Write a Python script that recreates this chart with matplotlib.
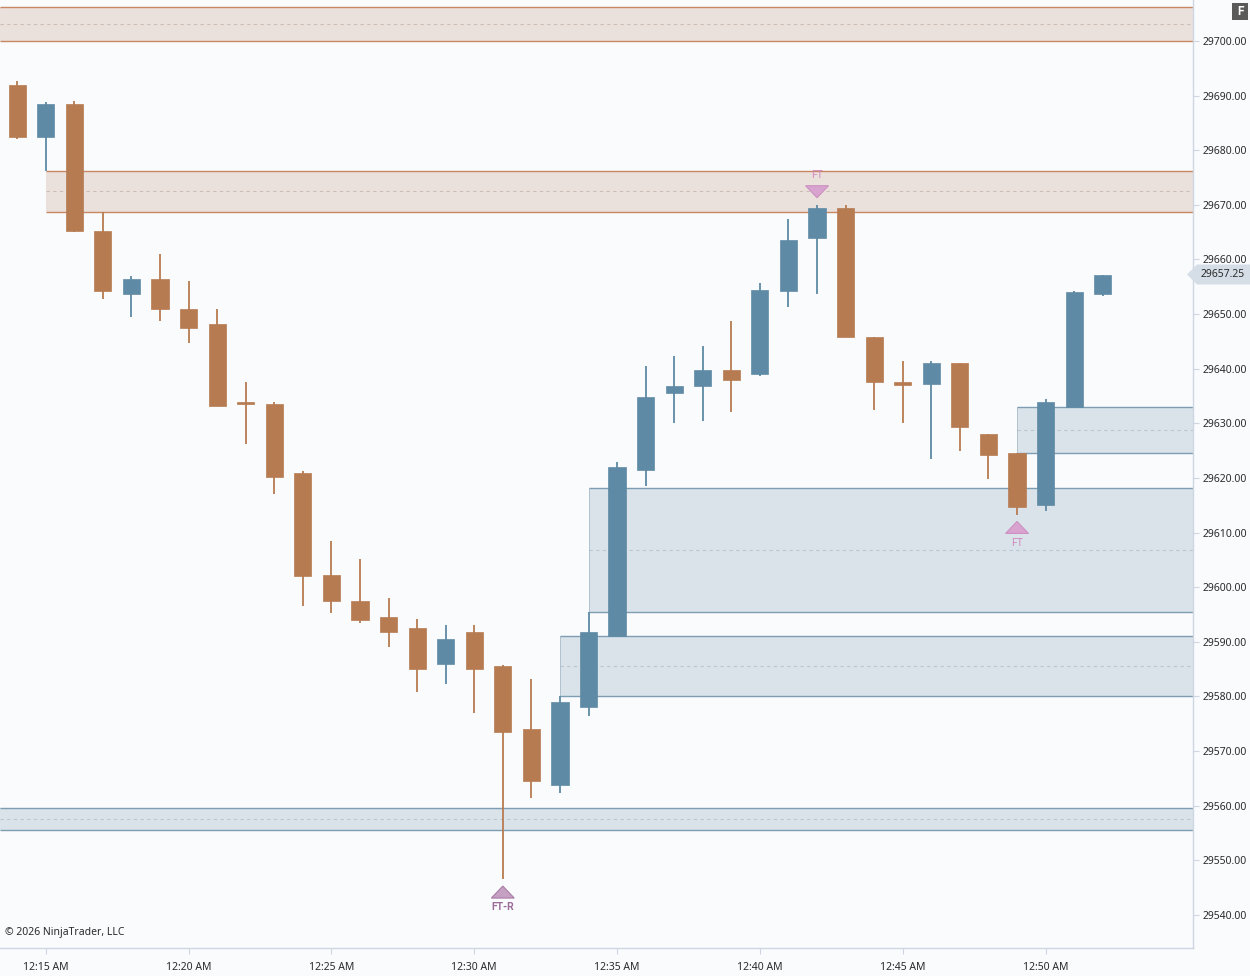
import matplotlib
matplotlib.use("Agg")
import matplotlib.pyplot as plt
from matplotlib.patches import Polygon, Rectangle

plt.rcParams['font.family'] = ['Noto Sans', 'DejaVu Sans']

# ---------------- data ----------------
times = ["12:14", "12:15", "12:16", "12:17", "12:18", "12:19", "12:20", "12:21", "12:22", "12:23",
         "12:24", "12:25", "12:26", "12:27", "12:28", "12:29", "12:30", "12:31", "12:32", "12:33",
         "12:34", "12:35", "12:36", "12:37", "12:38", "12:39", "12:40", "12:41", "12:42", "12:43",
         "12:44", "12:45", "12:46", "12:47", "12:48", "12:49", "12:50", "12:51", "12:52"]
opens = [29692.00, 29682.50, 29688.50, 29665.25, 29653.75, 29656.50, 29651.00, 29648.25, 29634.00, 29633.50,
         29621.00, 29602.25, 29597.50, 29594.50, 29592.50, 29586.00, 29591.75, 29585.50, 29574.00, 29563.75,
         29578.00, 29591.00, 29621.50, 29635.50, 29636.75, 29639.75, 29639.00, 29654.25, 29664.00, 29669.50,
         29645.75, 29637.50, 29637.25, 29641.00, 29628.00, 29624.50, 29615.00, 29633.00, 29653.75]
highs = [29692.75, 29688.75, 29689.00, 29668.75, 29657.00, 29661.00, 29656.00, 29651.00, 29637.50, 29634.00,
         29621.25, 29608.50, 29605.25, 29598.00, 29594.25, 29593.00, 29593.00, 29585.75, 29583.25, 29580.00,
         29595.50, 29623.00, 29640.50, 29642.25, 29644.25, 29648.75, 29655.75, 29667.50, 29670.00, 29670.00,
         29645.75, 29641.50, 29641.50, 29641.00, 29628.00, 29624.50, 29634.50, 29654.25, 29657.25]
lows = [29682.00, 29676.25, 29665.00, 29652.75, 29649.50, 29648.75, 29644.75, 29633.25, 29626.25, 29617.00,
        29596.50, 29595.25, 29593.50, 29589.00, 29580.75, 29582.25, 29577.00, 29546.50, 29561.50, 29562.25,
        29576.50, 29591.00, 29618.50, 29630.00, 29630.50, 29632.00, 29638.75, 29651.25, 29653.75, 29645.75,
        29632.50, 29630.00, 29623.50, 29625.00, 29619.75, 29613.25, 29614.00, 29633.00, 29653.25]
closes = [29682.50, 29688.50, 29665.25, 29654.25, 29656.50, 29651.00, 29647.50, 29633.25, 29633.50, 29620.25,
          29602.00, 29597.50, 29594.00, 29591.75, 29585.00, 29590.50, 29585.00, 29573.50, 29564.50, 29579.00,
          29591.75, 29622.00, 29634.75, 29636.75, 29639.75, 29638.00, 29654.50, 29663.50, 29669.50, 29645.75,
          29637.50, 29637.00, 29641.00, 29629.25, 29624.25, 29614.75, 29634.00, 29654.00, 29657.25]

# zones: start bar (None = from left edge), top, bottom, kind
zone_start = [None, "12:15", "12:34", "12:33", None, "12:49"]
zone_top = [29706.25, 29676.25, 29618.25, 29591.00, 29559.50, 29633.00]
zone_bottom = [29700.00, 29668.75, 29595.50, 29580.00, 29555.50, 29624.50]
zone_kind = ["supply", "supply", "demand", "demand", "demand", "demand"]

# signal markers: bar, label, side
signal_bars = ["12:31", "12:42", "12:49"]
signal_labels = ["FT-R", "FT", "FT"]
signal_side = ["below", "above", "below"]

xtick_times = ["12:15", "12:20", "12:25", "12:30", "12:35", "12:40", "12:45", "12:50"]
xtick_labels = ["12:15 AM", "12:20 AM", "12:25 AM", "12:30 AM", "12:35 AM", "12:40 AM", "12:45 AM", "12:50 AM"]
yticks = list(range(29540, 29701, 10))
last_price = 29657.25

# ---------------- styles ----------------
BG = "#f9fbfd"
BEAR = "#b77b52"
BULL = "#5f8aa5"
ZFILL = {"supply": "#ebe1dc", "demand": "#dae3ea"}
ZLINE = {"supply": "#c98662", "demand": "#7e9cb2"}
ZMID = {"supply": "#cdbdb5", "demand": "#b9c7d3"}
AXC = "#cdd6e1"

W, H = 1250, 976
fig = plt.figure(figsize=(W / 100, H / 100), dpi=100, facecolor=BG)
ax = fig.add_axes([0, 28 / H, 1193 / W, 948 / H], facecolor=BG)

xidx = {t: i for i, t in enumerate(times)}
XMIN, XMAX = -0.6, 41.16
YMIN, YMAX = 29533.96, 29707.5
ax.set_xlim(XMIN, XMAX)
ax.set_ylim(YMIN, YMAX)

# zones
for s, top, bot, kind in zip(zone_start, zone_top, zone_bottom, zone_kind):
    x0 = XMIN if s is None else xidx[s]
    ax.add_patch(Rectangle((x0, bot), XMAX - x0, top - bot, facecolor=ZFILL[kind],
                           edgecolor="none", zorder=1))
    ax.hlines([top, bot], x0, XMAX, colors=ZLINE[kind], lw=1.0, zorder=2)
    ax.hlines((top + bot) / 2, x0, XMAX, colors=ZMID[kind], lw=0.8,
              linestyles=(0, (3, 3)), zorder=2)
    if s is not None and kind == "demand":
        ax.vlines(x0, bot, top, colors=ZLINE[kind], lw=0.7, alpha=0.45, zorder=2)

# candles
for i, (o, h, l, c) in enumerate(zip(opens, highs, lows, closes)):
    col = BULL if c > o else BEAR
    ax.vlines(i, l, h, colors=col, lw=1.3, zorder=3)
    bot = min(o, c)
    hgt = max(abs(c - o), 0.5)
    ax.bar(i, hgt, bottom=bot, width=0.6, color=col, edgecolor=col, lw=0.5, zorder=4)

# signals
for b, lab, side in zip(signal_bars, signal_labels, signal_side):
    i = xidx[b]
    hw, th = 0.4, 2.2
    if lab == "FT-R":
        fc, ec, tc, fw = "#c6a0c3", "#a97ca5", "#9c6c98", "bold"
    else:
        fc, ec, tc, fw = "#d9a3cf", "#cc90c2", "#d088be", "normal"
    if side == "below":
        apex = lows[i] - 1.2
        pts = [(i - hw, apex - th), (i + hw, apex - th), (i, apex)]
        ty = apex - th - 1.7
    else:
        apex = highs[i] + 1.3
        pts = [(i - hw, apex + th), (i + hw, apex + th), (i, apex)]
        ty = apex + th + 1.9
    ax.add_patch(Polygon(pts, closed=True, facecolor=fc, edgecolor=ec, lw=0.8, zorder=5))
    ax.text(i, ty, lab, ha="center", va="center", fontsize=7.5, color=tc, fontweight=fw,
            family=['Roboto', 'DejaVu Sans'], zorder=6)

# axes styling
for sp in ["top", "left"]:
    ax.spines[sp].set_visible(False)
for sp in ["right", "bottom"]:
    ax.spines[sp].set_color(AXC)
    ax.spines[sp].set_linewidth(1.0)

ax.yaxis.tick_right()
ax.set_yticks(yticks)
ax.set_yticklabels([f"{v:.2f}" for v in yticks])
ax.set_xticks([xidx[t] for t in xtick_times])
ax.set_xticklabels(xtick_labels)
ax.tick_params(axis="y", direction="out", length=4, width=0.8, color=AXC,
               labelsize=7.5, labelcolor="#2b2b2b", pad=3)
ax.tick_params(axis="x", direction="out", length=4, width=0.8, color=AXC,
               labelsize=7.5, labelcolor="#2b2b2b", pad=6)

ax.text(5 / 1193, (948 - 933) / 948, "\u00a9 2026 NinjaTrader, LLC", transform=ax.transAxes,
        fontsize=7.5, color="#2b2b2b", ha="left", va="center")

# last price marker on the axis
fig.canvas.draw()
ydisp = ax.transData.transform((0, last_price))[1]
yf = ydisp / H
hh = 10 / H
x_tip, x_left, x_right = 1187 / W, 1197 / W, 1.0
fig.patches.append(Polygon([(x_tip, yf), (x_left, yf + hh), (x_right, yf + hh),
                            (x_right, yf - hh), (x_left, yf - hh)], closed=True,
                           transform=fig.transFigure, facecolor="#d5dee7", edgecolor="none",
                           zorder=5))
fig.text(1201 / W, yf, f"{last_price:.2f}", fontsize=7.5, color="#2b2b2b",
         ha="left", va="center", zorder=6)

# "F" box top-right
fig.patches.append(Rectangle((1232 / W, 1 - 20 / H), 16 / W, 17 / H, transform=fig.transFigure,
                             facecolor="#5a5a5a", edgecolor="none"))
fig.text(1240 / W, 1 - 11.5 / H, "F", fontsize=8.5, color="white", fontweight="bold",
         family=['Roboto', 'DejaVu Sans'], ha="center", va="center")

fig.savefig("out.png", dpi=100, facecolor=BG)
